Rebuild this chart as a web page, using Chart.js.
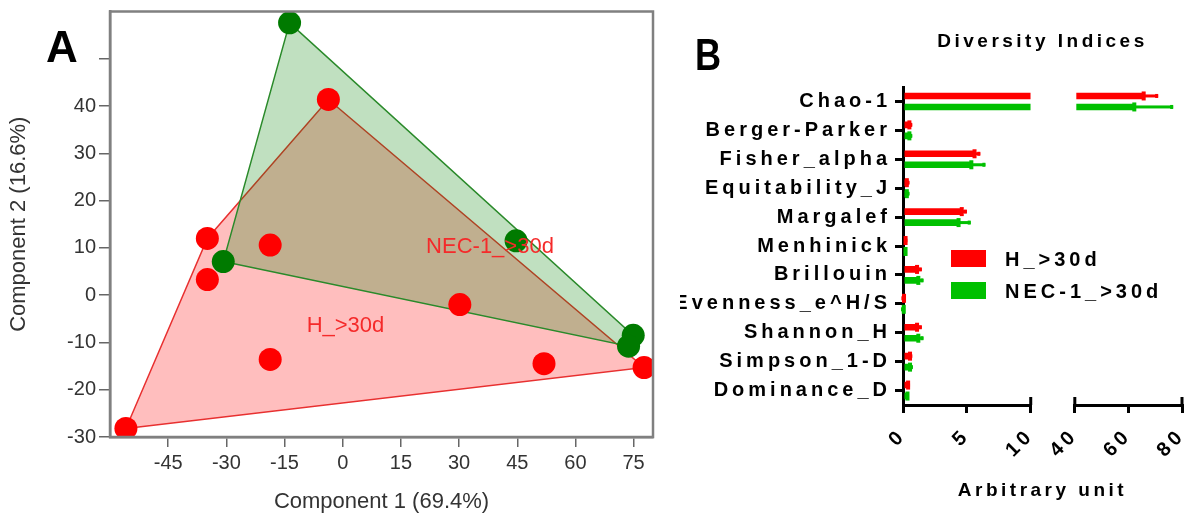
<!DOCTYPE html>
<html>
<head>
<meta charset="utf-8">
<script src="https://cdn.jsdelivr.net/npm/chart.js@4.4.1/dist/chart.umd.min.js"></script>
<style>
  html, body { margin: 0; padding: 0; background: #fff; }
  #wrap { position: relative; width: 1187px; height: 515px; overflow: hidden; }
  #pca { position: absolute; left: 0; top: 0; }
  #diversity { position: absolute; left: 680px; top: 0; }
</style>
</head>
<body>
<div id="wrap">
  <canvas id="pca" width="680" height="515"></canvas>
  <canvas id="diversity" width="507" height="515"></canvas>
</div>
<script>
// ---------- panel A : PCA scores ----------
const groupNames = ['H_>30d', 'NEC-1_>30d'];
const hX = [-55.9, -34.9, -34.9, -18.7, -18.7, -3.7, 30.2, 51.9, 77.7];
const hY = [-28.2, 12.0, 3.3, 10.6, -13.6, 41.4, -2.0, -14.5, -15.3];
const nX = [-13.7, -30.8, 44.7, 74.9, 73.7];
const nY = [57.6, 7.1, 11.5, -8.5, -10.8];
// where the group names are written (data units, left edge / middle)
const labelX = [-9.3, 21.5];
const labelY = [-6.5, 10.2];
const pcaXTicks = [-45, -30, -15, 0, 15, 30, 45, 60, 75];
const pcaYTicks = [-30, -20, -10, 0, 10, 20, 30, 40, 50];

// ---------- panel B : diversity indices ----------
const indices = ['Chao-1', 'Berger-Parker', 'Fisher_alpha', 'Equitability_J', 'Margalef', 'Menhinick',
                 'Brillouin', 'Evenness_e^H/S', 'Shannon_H', 'Simpson_1-D', 'Dominance_D'];
const hMean = [65.7, 0.5, 5.6, 0.3, 4.6, 0.2, 1.1, 0.08, 1.1, 0.55, 0.4];
const hErr  = [5.4, 0.22, 0.45, 0.2, 0.4, 0.13, 0.37, 0.03, 0.37, 0.17, 0.15];
const nMean = [62.2, 0.5, 5.35, 0.3, 4.35, 0.2, 1.2, 0.06, 1.2, 0.55, 0.35];
const nErr  = [14.5, 0.22, 1.1, 0.2, 0.95, 0.1, 0.4, 0.02, 0.4, 0.22, 0.03];
// broken value axis: 0-10, then 40-80
const lowMin = 0, lowMax = 10, lowStep = 5;
const highMin = 40, highMax = 80, highStep = 20;

const RED = '#ff0000';
const GREEN = '#00c000';
const FONT = '"Liberation Sans", Arial, sans-serif';

function hull(xs, ys) {
  const pts = xs.map((x, i) => ({ x, y: ys[i] })).sort((a, b) => a.x - b.x || a.y - b.y);
  const cross = (o, a, b) => (a.x - o.x) * (b.y - o.y) - (a.y - o.y) * (b.x - o.x);
  const lower = [], upper = [];
  for (const p of pts) {
    while (lower.length >= 2 && cross(lower[lower.length - 2], lower[lower.length - 1], p) <= 0) lower.pop();
    lower.push(p);
  }
  for (const p of pts.slice().reverse()) {
    while (upper.length >= 2 && cross(upper[upper.length - 2], upper[upper.length - 1], p) <= 0) upper.pop();
    upper.push(p);
  }
  const h = lower.slice(0, -1).concat(upper.slice(0, -1));
  h.push(h[0]);
  return h;
}

const toPoints = (xs, ys) => xs.map((x, i) => ({ x, y: ys[i] }));

const pcaDecor = {
  id: 'pcaDecor',
  afterDatasetsDraw(chart) {
    const { ctx, scales: { x, y } } = chart;
    ctx.save();
    ctx.font = '22px ' + FONT;
    ctx.fillStyle = '#f52a2a';
    ctx.textBaseline = 'middle';
    groupNames.forEach((name, i) => {
      ctx.fillText(name, x.getPixelForValue(labelX[i]), y.getPixelForValue(labelY[i]));
    });
    ctx.restore();
  },
  afterDraw(chart) {
    const { ctx, chartArea: a } = chart;
    ctx.save();
    ctx.strokeStyle = '#808080';
    ctx.lineWidth = 2.5;
    ctx.strokeRect(a.left, a.top, a.right - a.left, a.bottom - a.top);
    ctx.fillStyle = '#000';
    ctx.font = 'bold 44px ' + FONT;
    ctx.fillText('A', 46, 62);
    ctx.restore();
  }
};

new Chart(document.getElementById('pca'), {
  type: 'scatter',
  data: {
    datasets: [
      {
        label: groupNames[0] + ' hull',
        data: hull(hX, hY),
        showLine: true,
        fill: 'shape',
        tension: 0,
        backgroundColor: 'rgba(255,0,0,0.255)',
        borderColor: '#e83030',
        borderWidth: 1.5,
        pointRadius: 0,
        order: 4
      },
      {
        label: groupNames[1] + ' hull',
        data: hull(nX, nY),
        showLine: true,
        fill: 'shape',
        tension: 0,
        backgroundColor: 'rgba(0,128,0,0.247)',
        borderColor: '#2a8a2a',
        borderWidth: 1.5,
        pointRadius: 0,
        order: 3
      },
      {
        label: groupNames[1],
        data: toPoints(nX, nY),
        pointRadius: 11.5,
        pointBackgroundColor: '#007a00',
        pointBorderWidth: 0,
        order: 2
      },
      {
        label: groupNames[0],
        data: toPoints(hX, hY),
        pointRadius: 11.5,
        pointBackgroundColor: '#ff0000',
        pointBorderWidth: 0,
        order: 1
      }
    ]
  },
  options: {
    responsive: false,
    animation: false,
    events: [],
    layout: { padding: { top: 8, right: 27, left: 0, bottom: 0 } },
    plugins: { legend: { display: false }, tooltip: { enabled: false } },
    scales: {
      x: {
        type: 'linear',
        min: -60,
        max: 80,
        afterBuildTicks: s => { s.ticks = pcaXTicks.map(v => ({ value: v })); },
        afterFit: s => { s.height = 78; s.paddingLeft = 0; s.paddingRight = 0; },
        ticks: { color: '#333', font: { family: FONT, size: 20 }, padding: 4, maxRotation: 0 },
        grid: { drawOnChartArea: false, tickLength: 10, color: '#666', lineWidth: 1.5 },
        border: { color: '#808080', width: 2.5 },
        title: { display: true, text: 'Component 1 (69.4%)', color: '#333',
                 font: { family: FONT, size: 22 }, padding: { top: 0, bottom: 0 } }
      },
      y: {
        type: 'linear',
        min: -30,
        max: 60,
        afterBuildTicks: s => { s.ticks = pcaYTicks.map(v => ({ value: v })); },
        afterFit: s => { s.width = 110; s.paddingTop = 0; s.paddingBottom = 0; },
        ticks: { color: '#333', font: { family: FONT, size: 20 }, padding: 3,
                 callback: v => (v === 50 ? '' : v) },
        grid: { drawOnChartArea: false, tickLength: 11, color: '#666', lineWidth: 1.5 },
        border: { color: '#808080', width: 2.5 },
        title: { display: true, text: 'Component 2 (16.6%)', color: '#333',
                 font: { family: FONT, size: 22 }, padding: { top: 6, bottom: 0 } }
      }
    }
  },
  plugins: [pcaDecor]
});

// ---------- panel B ----------
const series = [
  { name: groupNames[0], mean: hMean, err: hErr, color: RED },
  { name: groupNames[1], mean: nMean, err: nErr, color: GREEN }
];

const divDecor = {
  id: 'divDecor',
  beforeDraw(chart) {
    chart.ctx.letterSpacing = '4px';
  },
  afterDatasetsDraw(chart) {
    const { ctx, scales: { xLow, xHigh } } = chart;
    ctx.save();
    series.forEach((s, k) => {
      const lowMeta = chart.getDatasetMeta(k);
      const highMeta = chart.getDatasetMeta(k + 2);
      s.mean.forEach((m, i) => {
        const broken = m > lowMax;
        const sc = broken ? xHigh : xLow;
        const yPix = (broken ? highMeta : lowMeta).data[i].y;
        const x0 = sc.getPixelForValue(m);
        const x1 = sc.getPixelForValue(m + s.err[i]);
        ctx.fillStyle = s.color;
        ctx.fillRect(x0 - 2, yPix - 4.5, 4, 9);
        ctx.fillRect(x0, yPix - 1.5, x1 - x0, 3);
        ctx.fillRect(x1 - 3, yPix - 2, 3, 4);
      });
    });
    ctx.restore();
  },
  afterDraw(chart) {
    const { ctx, chartArea: a, scales: { xLow, xHigh } } = chart;
    const cx = (a.left + a.right) / 2;
    ctx.save();
    // little end caps that mark the axis break
    ctx.strokeStyle = '#000';
    ctx.lineWidth = 3;
    [xLow.getPixelForValue(lowMax), xHigh.getPixelForValue(highMin), xHigh.getPixelForValue(highMax)].forEach(px => {
      ctx.beginPath();
      ctx.moveTo(px, a.bottom - 8);
      ctx.lineTo(px, a.bottom);
      ctx.stroke();
    });

    ctx.fillStyle = '#000';
    ctx.textAlign = 'center';
    ctx.textBaseline = 'alphabetic';
    ctx.letterSpacing = '3.5px';
    ctx.font = 'bold 19px ' + FONT;
    ctx.fillText('Diversity Indices', cx, 47);
    ctx.fillText('Arbitrary unit', cx, 496);

    // legend inside the plot
    ctx.textAlign = 'left';
    ctx.textBaseline = 'middle';
    ctx.letterSpacing = '4px';
    ctx.font = 'bold 20px ' + FONT;
    series.forEach((s, k) => {
      const top = a.top + 163 + k * 32;
      ctx.fillStyle = s.color;
      ctx.fillRect(a.left + 48, top, 35, 17);
      ctx.fillStyle = '#000';
      ctx.fillText(s.name, a.left + 102, top + 10);
    });

    ctx.letterSpacing = '0px';
    ctx.textBaseline = 'alphabetic';
    ctx.font = 'bold 44px ' + FONT;
    ctx.translate(15, 70);
    ctx.scale(0.82, 1);
    ctx.fillText('B', 0, 0);
    ctx.restore();
  }
};

const tickFont = { family: FONT, size: 20, weight: 'bold' };

new Chart(document.getElementById('diversity'), {
  type: 'bar',
  data: {
    labels: indices,
    datasets: [
      { label: series[0].name, data: hMean.map(v => Math.min(v, lowMax)), xAxisID: 'xLow', stack: 'h', backgroundColor: RED },
      { label: series[1].name, data: nMean.map(v => Math.min(v, lowMax)), xAxisID: 'xLow', stack: 'n', backgroundColor: GREEN },
      { label: series[0].name, data: hMean.map(v => (v > highMin ? v : null)), xAxisID: 'xHigh', stack: 'h', base: highMin, backgroundColor: RED },
      { label: series[1].name, data: nMean.map(v => (v > highMin ? v : null)), xAxisID: 'xHigh', stack: 'n', base: highMin, backgroundColor: GREEN }
    ]
  },
  options: {
    indexAxis: 'y',
    responsive: false,
    animation: false,
    events: [],
    categoryPercentage: 0.76,
    barPercentage: 0.6,
    layout: { padding: { top: 87, right: 5, left: 0, bottom: 0 } },
    plugins: { legend: { display: false }, tooltip: { enabled: false } },
    scales: {
      y: {
        type: 'category',
        offset: true,
        afterFit: s => { s.width = 223; s.paddingTop = 0; s.paddingBottom = 0; },
        ticks: { color: '#000', font: { family: FONT, size: 20, weight: 'bold' }, padding: 4, autoSkip: false },
        grid: { offset: false, drawOnChartArea: false, tickLength: 8, color: '#000', lineWidth: 3 },
        border: { color: '#000', width: 3 }
      },
      xLow: {
        type: 'linear', position: 'bottom', stack: 'value', stackWeight: 127.5, weight: 1,
        min: lowMin, max: lowMax, stacked: false,
        afterFit: s => { s.height = 110; s.paddingLeft = 0; s.paddingRight = 0; },
        ticks: { stepSize: lowStep, color: '#000', font: tickFont, padding: 11, minRotation: 45, maxRotation: 45 },
        grid: { drawOnChartArea: false, tickLength: 8, color: '#000', lineWidth: 3 },
        border: { color: '#000', width: 3 }
      },
      xGap: {
        type: 'linear', position: 'bottom', stack: 'value', stackWeight: 44, weight: 2,
        afterFit: s => { s.height = 110; s.paddingLeft = 0; s.paddingRight = 0; },
        ticks: { display: false },
        grid: { display: false },
        border: { display: false }
      },
      xHigh: {
        type: 'linear', position: 'bottom', stack: 'value', stackWeight: 107, weight: 3,
        min: highMin, max: highMax, stacked: false,
        afterFit: s => { s.height = 110; s.paddingLeft = 0; s.paddingRight = 0; },
        ticks: { stepSize: highStep, color: '#000', font: tickFont, padding: 11, minRotation: 45, maxRotation: 45 },
        grid: { drawOnChartArea: false, tickLength: 8, color: '#000', lineWidth: 3 },
        border: { color: '#000', width: 3 }
      }
    }
  },
  plugins: [divDecor]
});
</script>
</body>
</html>
